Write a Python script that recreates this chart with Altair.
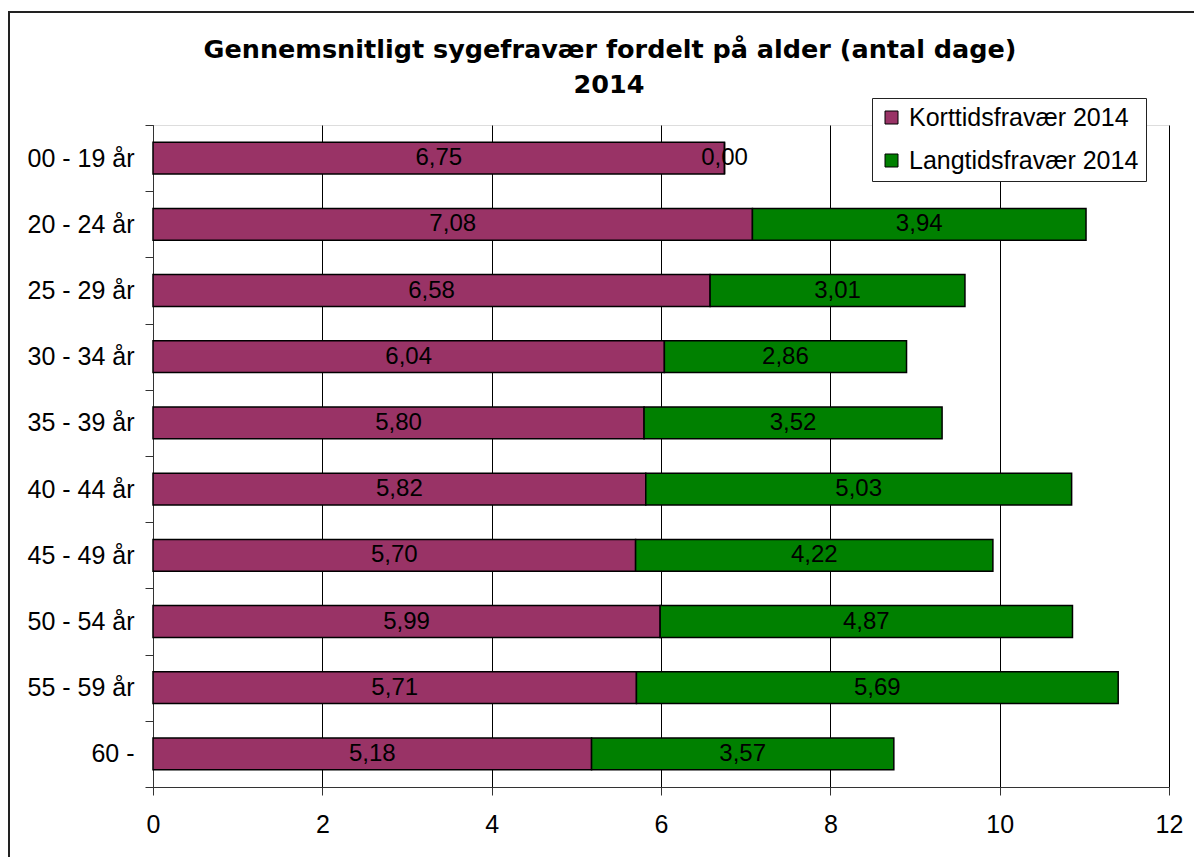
import altair as alt
import pandas as pd

ages = ["00 - 19 år", "20 - 24 år", "25 - 29 år", "30 - 34 år", "35 - 39 år",
        "40 - 44 år", "45 - 49 år", "50 - 54 år", "55 - 59 år", "60 -"]
kort = [6.75, 7.08, 6.58, 6.04, 5.80, 5.82, 5.70, 5.99, 5.71, 5.18]
lang = [0.00, 3.94, 3.01, 2.86, 3.52, 5.03, 4.22, 4.87, 5.69, 3.57]
series = ["Korttidsfravær 2014", "Langtidsfravær 2014"]
colors = ["#993366", "#008000"]
x_ticks = [0, 2, 4, 6, 8, 10, 12]
title_lines = ["Gennemsnitligt sygefravær fordelt på alder (antal dage)", "2014"]

rows = []
for a, k, l in zip(ages, kort, lang):
    rows.append({"alder": a, "serie": series[0], "start": 0.0, "end": k,
                 "mid": k / 2, "label": f"{k:.2f}".replace(".", ",")})
    rows.append({"alder": a, "serie": series[1], "start": k, "end": k + l,
                 "mid": k + l / 2, "label": f"{l:.2f}".replace(".", ",")})
df = pd.DataFrame(rows)

FONT = "Liberation Sans"

xscale = alt.Scale(domain=[0, 12], nice=False, zero=True)
yscale = alt.Scale(domain=ages, paddingInner=0, paddingOuter=0)

border = alt.Chart(alt.Data(values=[{"k": 1}])).mark_rect(
    fill="white", fillOpacity=0, stroke="#222222", strokeWidth=2
).encode(
    x=alt.value(-144), x2=alt.value(1100), y=alt.value(-113), y2=alt.value(900)
)

title1 = alt.Chart(alt.Data(values=[{"t": title_lines[0]}])).mark_text(
    font="DejaVu Sans", fontSize=25.5, fontWeight="bold", color="black",
    baseline="alphabetic", align="center"
).encode(text="t:N", x=alt.value(457), y=alt.value(-67))

title2 = alt.Chart(alt.Data(values=[{"t": title_lines[1]}])).mark_text(
    font="DejaVu Sans", fontSize=25.5, fontWeight="bold", color="black",
    baseline="alphabetic", align="center"
).encode(text="t:N", x=alt.value(456), y=alt.value(-32))

bars = alt.Chart(df).mark_bar(stroke="black", strokeWidth=1.5,
                              height=alt.RelativeBandSize(0.48)).encode(
    x=alt.X("start:Q", scale=xscale,
            axis=alt.Axis(values=x_ticks, format="d", grid=True, gridColor="black",
                          gridWidth=1, domainColor="#333333", tickColor="#333333",
                          tickSize=8, labelFontSize=25, labelFont=FONT,
                          labelColor="black", labelPadding=17, title=None,
                          labelFlush=False)),
    x2="end:Q",
    y=alt.Y("alder:N", scale=yscale, sort=ages,
            axis=alt.Axis(grid=False, tickBand="extent", domainColor="#333333",
                          tickColor="#333333", tickSize=8, labelFontSize=25,
                          labelFont=FONT, labelColor="black", labelPadding=11,
                          title=None)),
    color=alt.Color("serie:N", scale=alt.Scale(domain=series, range=colors),
                    legend=alt.Legend(orient="none", legendX=719, legendY=-27,
                                      title=None, strokeColor="#222222",
                                      fillColor="white", padding=7,
                                      labelFontSize=25, labelFont=FONT,
                                      labelColor="black",
                                      symbolType="square", symbolSize=169,
                                      symbolStrokeColor="black",
                                      symbolStrokeWidth=1,
                                      rowPadding=17, labelOffset=5,
                                      labelLimit=400)),
)

labels = alt.Chart(df).mark_text(fontSize=24, font=FONT, color="black").encode(
    x=alt.X("mid:Q", scale=xscale),
    y=alt.Y("alder:N", scale=yscale, sort=ages),
    text="label:N",
)

chart = alt.layer(border, bars, labels, title1, title2).properties(
    width=1016,
    height=662,
    autosize=alt.AutoSizeParams(type="none"),
    padding={"left": 145, "top": 117, "right": 25, "bottom": 70},
).configure_view(
    fill="#C0C0C0", stroke="#808080", strokeWidth=1
).configure(background="white")

chart.save("out.html", embed_options={"renderer": "svg", "actions": False})
